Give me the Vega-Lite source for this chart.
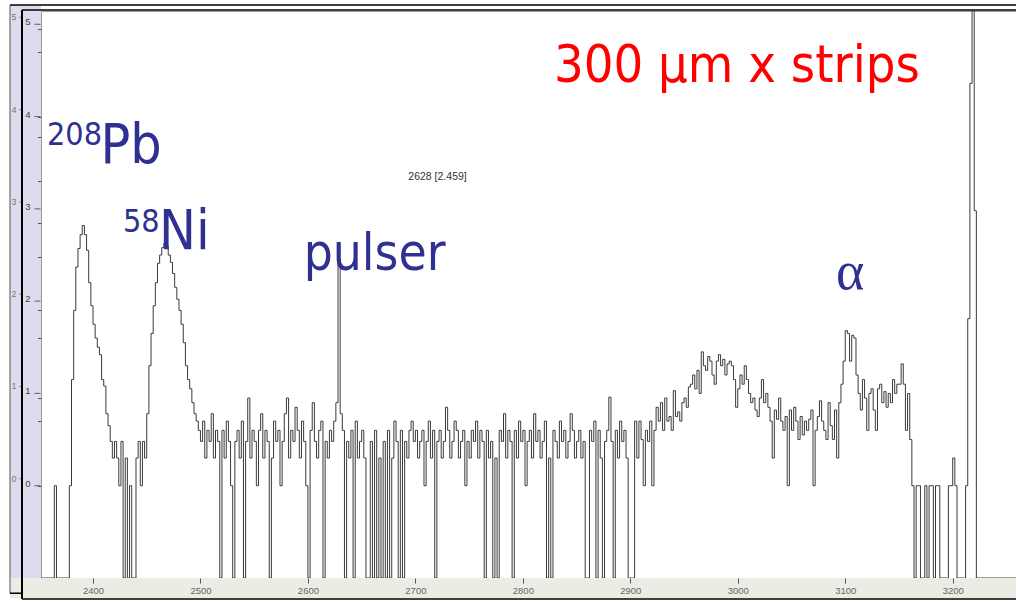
{
 "$schema": "https://vega.github.io/schema/vega-lite/v6.json",
 "width": 975,
 "height": 567,
 "autosize": {"type": "none"},
 "padding": {"left": 41, "top": 11, "right": 0, "bottom": 23},
 "background": "white",
 "config": {"view": {"stroke": "#9a9a9a", "strokeWidth": 1}},
 "layer": [
  {
   "data": {"values": [{}]},
   "mark": {"type": "rect", "color": "#dddcef"},
   "encoding": {"x": {"datum": 2322.76}, "x2": {"datum": 2351.61}, "y": {"datum": -1.0}, "y2": {"datum": 5.209}}
  },
  {
   "data": {"values": [{}]},
   "mark": {"type": "rect", "color": "#ecebe4"},
   "encoding": {"x": {"datum": 2322.76}, "x2": {"datum": 3258.9}, "y": {"datum": -1.0}, "y2": {"datum": -1.217}}
  },
  {
   "data": {"values": [
    {"channel":2352,"lg":-1},{"channel":2354,"lg":-1},{"channel":2356,"lg":-1},{"channel":2358,"lg":-1},{"channel":2360,"lg":-1},{"channel":2362,"lg":-1},
    {"channel":2364,"lg":0},{"channel":2366,"lg":-1},{"channel":2368,"lg":-1},{"channel":2370,"lg":-1},{"channel":2372,"lg":-1},{"channel":2374,"lg":-1},
    {"channel":2376,"lg":-1},{"channel":2378,"lg":0},{"channel":2380,"lg":1.15},{"channel":2382,"lg":1.9},{"channel":2384,"lg":2.37},{"channel":2386,"lg":2.57},
    {"channel":2388,"lg":2.72},{"channel":2390,"lg":2.82},{"channel":2392,"lg":2.72},{"channel":2394,"lg":2.55},{"channel":2396,"lg":2.2},{"channel":2398,"lg":1.95},
    {"channel":2400,"lg":1.75},{"channel":2402,"lg":1.6},{"channel":2404,"lg":1.5},{"channel":2406,"lg":1.42},{"channel":2408,"lg":1.15},{"channel":2410,"lg":1.08},
    {"channel":2412,"lg":0.78},{"channel":2414,"lg":0.65},{"channel":2416,"lg":0.48},{"channel":2418,"lg":0.3},{"channel":2420,"lg":0.48},{"channel":2422,"lg":0.3},
    {"channel":2424,"lg":0},{"channel":2426,"lg":0.48},{"channel":2428,"lg":-1},{"channel":2430,"lg":0.3},{"channel":2432,"lg":-1},{"channel":2434,"lg":0},
    {"channel":2436,"lg":-1},{"channel":2438,"lg":-1},{"channel":2440,"lg":0.3},{"channel":2442,"lg":0.48},{"channel":2444,"lg":0},{"channel":2446,"lg":0.48},
    {"channel":2448,"lg":0.3},{"channel":2450,"lg":0.78},{"channel":2452,"lg":1.3},{"channel":2454,"lg":1.65},{"channel":2456,"lg":1.95},{"channel":2458,"lg":2.2},
    {"channel":2460,"lg":2.41},{"channel":2462,"lg":2.5},{"channel":2464,"lg":2.58},{"channel":2466,"lg":2.63},{"channel":2468,"lg":2.6},{"channel":2470,"lg":2.5},
    {"channel":2472,"lg":2.42},{"channel":2474,"lg":2.3},{"channel":2476,"lg":2.15},{"channel":2478,"lg":2.02},{"channel":2480,"lg":1.9},{"channel":2482,"lg":1.75},
    {"channel":2484,"lg":1.55},{"channel":2486,"lg":1.3},{"channel":2488,"lg":1.15},{"channel":2490,"lg":1.05},{"channel":2492,"lg":0.9},{"channel":2494,"lg":0.78},
    {"channel":2496,"lg":0.7},{"channel":2498,"lg":0.6},{"channel":2500,"lg":0.48},{"channel":2502,"lg":0.7},{"channel":2504,"lg":0.3},{"channel":2506,"lg":0.6},
    {"channel":2508,"lg":0.48},{"channel":2510,"lg":0.78},{"channel":2512,"lg":0.3},{"channel":2514,"lg":0.6},{"channel":2516,"lg":0.48},{"channel":2518,"lg":-1},
    {"channel":2520,"lg":0.6},{"channel":2522,"lg":0.3},{"channel":2524,"lg":0.7},{"channel":2526,"lg":0.48},{"channel":2528,"lg":0},{"channel":2530,"lg":-1},
    {"channel":2532,"lg":0.48},{"channel":2534,"lg":0.6},{"channel":2536,"lg":0.3},{"channel":2538,"lg":0.7},{"channel":2540,"lg":-1},{"channel":2542,"lg":0.48},
    {"channel":2544,"lg":0.95},{"channel":2546,"lg":0.3},{"channel":2548,"lg":0.6},{"channel":2550,"lg":0.48},{"channel":2552,"lg":0},{"channel":2554,"lg":0.6},
    {"channel":2556,"lg":0.78},{"channel":2558,"lg":0.3},{"channel":2560,"lg":0.6},{"channel":2562,"lg":0.48},{"channel":2564,"lg":-1},{"channel":2566,"lg":0.3},
    {"channel":2568,"lg":0.7},{"channel":2570,"lg":0.48},{"channel":2572,"lg":0.6},{"channel":2574,"lg":0},{"channel":2576,"lg":0.48},{"channel":2578,"lg":0.78},
    {"channel":2580,"lg":0.95},{"channel":2582,"lg":0.3},{"channel":2584,"lg":0.6},{"channel":2586,"lg":0.48},{"channel":2588,"lg":0.85},{"channel":2590,"lg":0.6},
    {"channel":2592,"lg":0.3},{"channel":2594,"lg":0.7},{"channel":2596,"lg":0.48},{"channel":2598,"lg":0},{"channel":2600,"lg":-1},{"channel":2602,"lg":0.6},
    {"channel":2604,"lg":0.9},{"channel":2606,"lg":0.48},{"channel":2608,"lg":0.3},{"channel":2610,"lg":0.6},{"channel":2612,"lg":0.7},{"channel":2614,"lg":-1},
    {"channel":2616,"lg":0.48},{"channel":2618,"lg":0.3},{"channel":2620,"lg":0.6},{"channel":2622,"lg":0.48},{"channel":2624,"lg":0.7},{"channel":2626,"lg":0.9},
    {"channel":2628,"lg":2.459},{"channel":2630,"lg":0.78},{"channel":2632,"lg":0.6},{"channel":2634,"lg":-1},{"channel":2636,"lg":0.48},{"channel":2638,"lg":0.3},
    {"channel":2640,"lg":0.6},{"channel":2642,"lg":-1},{"channel":2644,"lg":0.7},{"channel":2646,"lg":0.3},{"channel":2648,"lg":0.48},{"channel":2650,"lg":0.6},
    {"channel":2652,"lg":0.3},{"channel":2654,"lg":-1},{"channel":2656,"lg":-1},{"channel":2658,"lg":0.48},{"channel":2660,"lg":-1},{"channel":2662,"lg":0.6},
    {"channel":2664,"lg":-1},{"channel":2666,"lg":0.3},{"channel":2668,"lg":-1},{"channel":2670,"lg":0.48},{"channel":2672,"lg":-1},{"channel":2674,"lg":0.6},
    {"channel":2676,"lg":-1},{"channel":2678,"lg":0.3},{"channel":2680,"lg":0.7},{"channel":2682,"lg":0.48},{"channel":2684,"lg":-1},{"channel":2686,"lg":0.6},
    {"channel":2688,"lg":-1},{"channel":2690,"lg":0.48},{"channel":2692,"lg":0.3},{"channel":2694,"lg":0.6},{"channel":2696,"lg":0.7},{"channel":2698,"lg":0.48},
    {"channel":2700,"lg":0.6},{"channel":2702,"lg":0.3},{"channel":2704,"lg":0.48},{"channel":2706,"lg":0.6},{"channel":2708,"lg":0},{"channel":2710,"lg":0.48},
    {"channel":2712,"lg":0.7},{"channel":2714,"lg":0.3},{"channel":2716,"lg":0.6},{"channel":2718,"lg":-1},{"channel":2720,"lg":0.48},{"channel":2722,"lg":0.6},
    {"channel":2724,"lg":0.3},{"channel":2726,"lg":0.48},{"channel":2728,"lg":0.85},{"channel":2730,"lg":0.6},{"channel":2732,"lg":0.3},{"channel":2734,"lg":0.48},
    {"channel":2736,"lg":0.7},{"channel":2738,"lg":0.6},{"channel":2740,"lg":0.3},{"channel":2742,"lg":0.48},{"channel":2744,"lg":0.6},{"channel":2746,"lg":0},
    {"channel":2748,"lg":0.48},{"channel":2750,"lg":0.3},{"channel":2752,"lg":0.6},{"channel":2754,"lg":0.48},{"channel":2756,"lg":0.7},{"channel":2758,"lg":0.3},
    {"channel":2760,"lg":0.6},{"channel":2762,"lg":0.48},{"channel":2764,"lg":-1},{"channel":2766,"lg":0.6},{"channel":2768,"lg":0.3},{"channel":2770,"lg":0.48},
    {"channel":2772,"lg":-1},{"channel":2774,"lg":0.3},{"channel":2776,"lg":-1},{"channel":2778,"lg":0.6},{"channel":2780,"lg":0.48},{"channel":2782,"lg":0.78},
    {"channel":2784,"lg":0.3},{"channel":2786,"lg":0.6},{"channel":2788,"lg":0.48},{"channel":2790,"lg":-1},{"channel":2792,"lg":0.6},{"channel":2794,"lg":0.3},
    {"channel":2796,"lg":0.7},{"channel":2798,"lg":0.48},{"channel":2800,"lg":0.6},{"channel":2802,"lg":0},{"channel":2804,"lg":0.48},{"channel":2806,"lg":0.6},
    {"channel":2808,"lg":0.3},{"channel":2810,"lg":0.78},{"channel":2812,"lg":0.48},{"channel":2814,"lg":0.6},{"channel":2816,"lg":0.3},{"channel":2818,"lg":0.48},
    {"channel":2820,"lg":0.7},{"channel":2822,"lg":-1},{"channel":2824,"lg":0.3},{"channel":2826,"lg":-1},{"channel":2828,"lg":0.6},{"channel":2830,"lg":0.48},
    {"channel":2832,"lg":0.3},{"channel":2834,"lg":0.7},{"channel":2836,"lg":0.48},{"channel":2838,"lg":0.6},{"channel":2840,"lg":0.3},{"channel":2842,"lg":0.48},
    {"channel":2844,"lg":0.78},{"channel":2846,"lg":0.6},{"channel":2848,"lg":0.3},{"channel":2850,"lg":0.48},{"channel":2852,"lg":0.6},{"channel":2854,"lg":0.3},
    {"channel":2856,"lg":0.48},{"channel":2858,"lg":-1},{"channel":2860,"lg":-1},{"channel":2862,"lg":0.6},{"channel":2864,"lg":0.48},{"channel":2866,"lg":0.7},
    {"channel":2868,"lg":-1},{"channel":2870,"lg":0.6},{"channel":2872,"lg":0.3},{"channel":2874,"lg":-1},{"channel":2876,"lg":0.48},{"channel":2878,"lg":0.6},
    {"channel":2880,"lg":0.96},{"channel":2882,"lg":0.48},{"channel":2884,"lg":-1},{"channel":2886,"lg":0.6},{"channel":2888,"lg":0.3},{"channel":2890,"lg":0.7},
    {"channel":2892,"lg":0.48},{"channel":2894,"lg":0.6},{"channel":2896,"lg":0.3},{"channel":2898,"lg":-1},{"channel":2900,"lg":-1},{"channel":2902,"lg":-1},
    {"channel":2904,"lg":0.7},{"channel":2906,"lg":0.3},{"channel":2908,"lg":0.7},{"channel":2910,"lg":0.5},{"channel":2912,"lg":0},{"channel":2914,"lg":0.6},
    {"channel":2916,"lg":0.48},{"channel":2918,"lg":0.7},{"channel":2920,"lg":0},{"channel":2922,"lg":0.6},{"channel":2924,"lg":0.85},{"channel":2926,"lg":0.7},
    {"channel":2928,"lg":0.9},{"channel":2930,"lg":0.6},{"channel":2932,"lg":0.95},{"channel":2934,"lg":0.7},{"channel":2936,"lg":0.75},{"channel":2938,"lg":0.6},
    {"channel":2940,"lg":1.03},{"channel":2942,"lg":0.75},{"channel":2944,"lg":0.8},{"channel":2946,"lg":0.7},{"channel":2948,"lg":0.9},{"channel":2950,"lg":0.95},
    {"channel":2952,"lg":0.85},{"channel":2954,"lg":1.07},{"channel":2956,"lg":1.1},{"channel":2958,"lg":1.2},{"channel":2960,"lg":1.05},{"channel":2962,"lg":1.25},
    {"channel":2964,"lg":1.0},{"channel":2966,"lg":1.45},{"channel":2968,"lg":1.3},{"channel":2970,"lg":1.25},{"channel":2972,"lg":1.4},{"channel":2974,"lg":1.35},
    {"channel":2976,"lg":1.2},{"channel":2978,"lg":1.1},{"channel":2980,"lg":1.35},{"channel":2982,"lg":1.42},{"channel":2984,"lg":1.3},{"channel":2986,"lg":1.37},
    {"channel":2988,"lg":1.2},{"channel":2990,"lg":1.32},{"channel":2992,"lg":1.35},{"channel":2994,"lg":1.3},{"channel":2996,"lg":1.15},{"channel":2998,"lg":0.85},
    {"channel":3000,"lg":1.05},{"channel":3002,"lg":1.2},{"channel":3004,"lg":1.1},{"channel":3006,"lg":1.3},{"channel":3008,"lg":1.15},{"channel":3010,"lg":1.0},
    {"channel":3012,"lg":0.9},{"channel":3014,"lg":0.95},{"channel":3016,"lg":0.82},{"channel":3018,"lg":0.75},{"channel":3020,"lg":0.95},{"channel":3022,"lg":1.15},
    {"channel":3024,"lg":0.9},{"channel":3026,"lg":1.0},{"channel":3028,"lg":0.85},{"channel":3030,"lg":0.7},{"channel":3032,"lg":0.3},{"channel":3034,"lg":0.82},
    {"channel":3036,"lg":0.72},{"channel":3038,"lg":0.95},{"channel":3040,"lg":0.7},{"channel":3042,"lg":0.6},{"channel":3044,"lg":0.75},{"channel":3046,"lg":0},
    {"channel":3048,"lg":0.82},{"channel":3050,"lg":0.6},{"channel":3052,"lg":0.85},{"channel":3054,"lg":0.7},{"channel":3056,"lg":0.5},{"channel":3058,"lg":0.75},
    {"channel":3060,"lg":0.55},{"channel":3062,"lg":0.7},{"channel":3064,"lg":0.6},{"channel":3066,"lg":0.72},{"channel":3068,"lg":0.82},{"channel":3070,"lg":0},
    {"channel":3072,"lg":0.6},{"channel":3074,"lg":0.75},{"channel":3076,"lg":0.92},{"channel":3078,"lg":0.7},{"channel":3080,"lg":0.6},{"channel":3082,"lg":0.5},
    {"channel":3084,"lg":0.9},{"channel":3086,"lg":0.65},{"channel":3088,"lg":0.5},{"channel":3090,"lg":0.82},{"channel":3092,"lg":0.3},{"channel":3094,"lg":0.9},
    {"channel":3096,"lg":1.1},{"channel":3098,"lg":1.35},{"channel":3100,"lg":1.68},{"channel":3102,"lg":1.65},{"channel":3104,"lg":1.35},{"channel":3106,"lg":1.63},
    {"channel":3108,"lg":1.6},{"channel":3110,"lg":1.2},{"channel":3112,"lg":1.0},{"channel":3114,"lg":0.82},{"channel":3116,"lg":1.15},{"channel":3118,"lg":0.95},
    {"channel":3120,"lg":0.6},{"channel":3122,"lg":1.0},{"channel":3124,"lg":1.05},{"channel":3126,"lg":0.82},{"channel":3128,"lg":0.6},{"channel":3130,"lg":1.05},
    {"channel":3132,"lg":1.1},{"channel":3134,"lg":0.9},{"channel":3136,"lg":1.02},{"channel":3138,"lg":0.85},{"channel":3140,"lg":1.0},{"channel":3142,"lg":0.9},
    {"channel":3144,"lg":1.15},{"channel":3146,"lg":1.0},{"channel":3148,"lg":1.1},{"channel":3150,"lg":1.1},{"channel":3152,"lg":1.32},{"channel":3154,"lg":1.1},
    {"channel":3156,"lg":0.6},{"channel":3158,"lg":1.0},{"channel":3160,"lg":0.5},{"channel":3162,"lg":0},{"channel":3164,"lg":-1},{"channel":3166,"lg":0},
    {"channel":3168,"lg":0},{"channel":3170,"lg":-1},{"channel":3172,"lg":-1},{"channel":3174,"lg":0},{"channel":3176,"lg":-1},{"channel":3178,"lg":0},
    {"channel":3180,"lg":0},{"channel":3182,"lg":-1},{"channel":3184,"lg":0},{"channel":3186,"lg":0},{"channel":3188,"lg":-1},{"channel":3190,"lg":-1},
    {"channel":3192,"lg":-1},{"channel":3194,"lg":-1},{"channel":3196,"lg":0},{"channel":3198,"lg":0},{"channel":3200,"lg":0.3},{"channel":3202,"lg":0},
    {"channel":3204,"lg":-1},{"channel":3206,"lg":-1},{"channel":3208,"lg":-1},{"channel":3210,"lg":-1},{"channel":3212,"lg":0},{"channel":3214,"lg":1.81},
    {"channel":3216,"lg":4.36},{"channel":3218,"lg":5.3},{"channel":3220,"lg":2.98},{"channel":3222,"lg":-1},{"channel":3224,"lg":-1},{"channel":3226,"lg":-1},
    {"channel":3228,"lg":-1},{"channel":3230,"lg":-1},{"channel":3232,"lg":-1},{"channel":3234,"lg":-1},{"channel":3236,"lg":-1},{"channel":3238,"lg":-1},
    {"channel":3240,"lg":-1},{"channel":3242,"lg":-1},{"channel":3244,"lg":-1},{"channel":3246,"lg":-1},{"channel":3248,"lg":-1},{"channel":3250,"lg":-1},
    {"channel":3252,"lg":-1},{"channel":3254,"lg":-1},{"channel":3256,"lg":-1},{"channel":3258,"lg":-1},{"channel":3260,"lg":-1}
   ]},
   "mark": {"type": "line", "interpolate": "step-after", "color": "#3a3a3a", "strokeWidth": 1, "clip": true},
   "encoding": {
    "x": {"field": "channel", "type": "quantitative",
     "scale": {"domain": [2351.61, 3258.9], "nice": false, "zero": false},
     "axis": {"values": [2400, 2500, 2600, 2700, 2800, 2900, 3000, 3100, 3200], "format": "d", "title": null, "grid": false, "domain": false,
      "tickSize": 5, "tickColor": "#555", "labelColor": "#666", "labelFont": "Liberation Sans", "labelFontSize": 9.5, "labelPadding": 2, "labelOverlap": false, "zindex": 1}},
    "y": {"field": "lg", "type": "quantitative",
     "scale": {"domain": [-1, 5.144], "nice": false, "zero": false},
     "axis": {"values": [0,0.30103,0.47712,0.60206,0.69897,0.77815,0.8451,0.90309,0.95424,1,1.30103,1.47712,1.60206,1.69897,1.77815,1.8451,1.90309,1.95424,2,2.30103,2.47712,2.60206,2.69897,2.77815,2.8451,2.90309,2.95424,3,3.30103,3.47712,3.60206,3.69897,3.77815,3.8451,3.90309,3.95424,4,4.30103,4.47712,4.60206,4.69897,4.77815,4.8451,4.90309,4.95424,5],
      "labels": false, "tickSize": 3.5, "tickColor": "#555",
      "title": null, "grid": false, "domain": false, "zindex": 1}}
   }
  },
  {
   "data": {"values": [{"tick": 0}, {"tick": 1}, {"tick": 2}, {"tick": 3}, {"tick": 4}, {"tick": 5}]},
   "mark": {"type": "tick", "orient": "horizontal", "color": "#444", "size": 6, "thickness": 1.2},
   "encoding": {"x": {"datum": 2348.3}, "y": {"field": "tick", "type": "quantitative"}}
  },
  {
   "data": {"values": [{"tick": 0}, {"tick": 1}, {"tick": 2}, {"tick": 3}, {"tick": 4}, {"tick": 5}]},
   "mark": {"type": "tick", "orient": "horizontal", "color": "#666", "size": 3, "thickness": 1, "yOffset": -7},
   "encoding": {"x": {"datum": 2332.6}, "y": {"field": "tick", "type": "quantitative"}}
  },
  {
   "data": {"values": [{}]},
   "mark": {"type": "rule", "color": "black", "strokeWidth": 1.5},
   "encoding": {"x": {"datum": 2322.76}, "x2": {"datum": 3258.9}, "y": {"datum": 5.209}}
  },
  {
   "data": {"values": [{}]},
   "mark": {"type": "rule", "color": "black", "strokeWidth": 1.5},
   "encoding": {"x": {"datum": 2333.93}, "x2": {"datum": 3258.9}, "y": {"datum": 5.155}}
  },
  {
   "data": {"values": [{}]},
   "mark": {"type": "rule", "color": "black", "strokeWidth": 2},
   "encoding": {"x": {"datum": 2333.93}, "y": {"datum": 5.155}, "y2": {"datum": -1.228}}
  },
  {
   "data": {"values": [{}]},
   "mark": {"type": "rule", "color": "#555", "strokeWidth": 1},
   "encoding": {"x": {"datum": 2322.76}, "y": {"datum": 5.209}, "y2": {"datum": -1.165}}
  },
  {
   "data": {"values": [{}]},
   "mark": {"type": "rule", "color": "black", "strokeWidth": 1.5},
   "encoding": {"x": {"datum": 2333.93}, "x2": {"datum": 3258.9}, "y": {"datum": -1.228}}
  },
  {
   "data": {"values": [{}]},
   "mark": {"type": "rule", "color": "black", "strokeWidth": 1.5},
   "encoding": {"x": {"datum": 2322.76}, "x2": {"datum": 2333.93}, "y": {"datum": -1.165}}
  },
  {
   "data": {"values": [{"mark": 0}, {"mark": 1}, {"mark": 2}, {"mark": 3}, {"mark": 4}, {"mark": 5}]},
   "mark": {"type": "text", "font": "Liberation Sans", "fontSize": 9, "color": "#777", "align": "center", "baseline": "middle", "dy": -7},
   "encoding": {"x": {"datum": 2326.5}, "y": {"field": "mark", "type": "quantitative"}, "text": {"field": "mark", "type": "quantitative"}}
  },
  {
   "data": {"values": [{"mark": 0}, {"mark": 1}, {"mark": 2}, {"mark": 3}, {"mark": 4}, {"mark": 5}]},
   "mark": {"type": "text", "font": "Liberation Sans", "fontSize": 9.5, "color": "#444", "align": "center", "baseline": "middle", "dy": -2},
   "encoding": {"x": {"datum": 2339.5}, "y": {"field": "mark", "type": "quantitative"}, "text": {"field": "mark", "type": "quantitative"}}
  },
  {
   "data": {"values": [{}]},
   "mark": {"type": "text", "text": "300 μm x strips", "font": "DejaVu Sans Condensed", "fontSize": 52, "color": "#ff0000", "align": "left", "baseline": "alphabetic"},
   "encoding": {"x": {"datum": 2828.9}, "y": {"datum": 4.373}}
  },
  {
   "data": {"values": [{}]},
   "mark": {"type": "text", "text": "208", "font": "DejaVu Sans Condensed", "fontSize": 32, "color": "#2e3192", "align": "left", "baseline": "alphabetic"},
   "encoding": {"x": {"datum": 2357.2}, "y": {"datum": 3.69}}
  },
  {
   "data": {"values": [{}]},
   "mark": {"type": "text", "text": "Pb", "font": "DejaVu Sans Condensed", "fontSize": 55, "color": "#2e3192", "align": "left", "baseline": "alphabetic"},
   "encoding": {"x": {"datum": 2407.0}, "y": {"datum": 3.495}}
  },
  {
   "data": {"values": [{}]},
   "mark": {"type": "text", "text": "58", "font": "DejaVu Sans Condensed", "fontSize": 32, "color": "#2e3192", "align": "left", "baseline": "alphabetic"},
   "encoding": {"x": {"datum": 2427.9}, "y": {"datum": 2.747}}
  },
  {
   "data": {"values": [{}]},
   "mark": {"type": "text", "text": "Ni", "font": "DejaVu Sans Condensed", "fontSize": 55, "color": "#2e3192", "align": "left", "baseline": "alphabetic"},
   "encoding": {"x": {"datum": 2461.3}, "y": {"datum": 2.563}}
  },
  {
   "data": {"values": [{}]},
   "mark": {"type": "text", "text": "pulser", "font": "DejaVu Sans Condensed", "fontSize": 51, "color": "#2e3192", "align": "left", "baseline": "alphabetic"},
   "encoding": {"x": {"datum": 2596.0}, "y": {"datum": 2.335}}
  },
  {
   "data": {"values": [{}]},
   "mark": {"type": "text", "text": "α", "font": "Liberation Serif", "fontSize": 54, "color": "#2e3192", "align": "left", "baseline": "alphabetic"},
   "encoding": {"x": {"datum": 3091.4}, "y": {"datum": 2.13}}
  },
  {
   "data": {"values": [{}]},
   "mark": {"type": "text", "text": "2628 [2.459]", "font": "Liberation Sans", "fontSize": 10.5, "color": "#333", "align": "center", "baseline": "middle"},
   "encoding": {"x": {"datum": 2720.6}, "y": {"datum": 3.343}}
  }
 ]
}
